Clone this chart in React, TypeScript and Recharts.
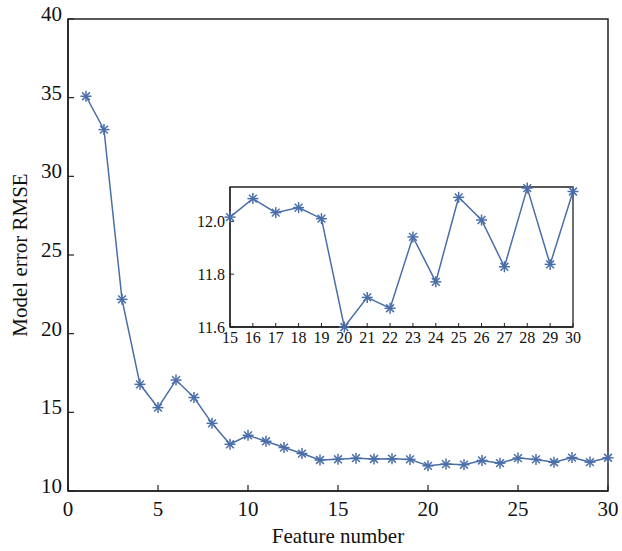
import React from 'react';
import { LineChart, Line, XAxis, YAxis, ReferenceArea } from 'recharts';

const featureNumbers = [1, 2, 3, 4, 5, 6, 7, 8, 9, 10, 11, 12, 13, 14, 15, 16, 17, 18, 19, 20, 21, 22, 23, 24, 25, 26, 27, 28, 29, 30];
const rmseValues = [35.09, 32.97, 22.18, 16.78, 15.3, 17.05, 15.94, 14.3, 12.97, 13.54, 13.16, 12.76, 12.38, 11.97, 12.016, 12.086, 12.033, 12.052, 12.01, 11.6, 11.712, 11.671, 11.941, 11.771, 12.091, 12.005, 11.828, 12.126, 11.837, 12.113];

const mainXTicks = [0, 5, 10, 15, 20, 25, 30];
const mainYTicks = [10, 15, 20, 25, 30, 35, 40];
const insetXTicks = [15, 16, 17, 18, 19, 20, 21, 22, 23, 24, 25, 26, 27, 28, 29, 30];
const insetYTicks = [11.6, 11.8, 12.0];

const mainData = featureNumbers.map((f, i) => ({ f, v: rmseValues[i] }));
const insetData = mainData.filter((d) => d.f >= 15);

const COLOR = '#4a6ea8';
const AXIS = '#222';
const FONT = 'Liberation Serif';

const Star = (props: any) => {
  const { cx, cy, index } = props;
  if (cx == null || cy == null) return <g key={`s${index}`} />;
  const r = 5.5;
  const d = r * Math.SQRT1_2;
  return (
    <g key={`s${index}`} stroke={COLOR} strokeWidth={1.5}>
      <line x1={cx - r} y1={cy} x2={cx + r} y2={cy} />
      <line x1={cx} y1={cy - r} x2={cx} y2={cy + r} />
      <line x1={cx - d} y1={cy - d} x2={cx + d} y2={cy + d} />
      <line x1={cx - d} y1={cy + d} x2={cx + d} y2={cy - d} />
    </g>
  );
};

const txt = (size: number) => ({ fontFamily: FONT, fontSize: size, fill: '#111' });

const MainXTick = (props: any) => {
  const { x, y, payload } = props;
  return (
    <text x={x} y={y + 21} textAnchor="middle" fontFamily={FONT} style={txt(21)}>
      {payload.value}
    </text>
  );
};

const MainYTick = (props: any) => {
  const { x, y, payload } = props;
  return (
    <text x={x} y={y + 2} textAnchor="end" fontFamily={FONT} style={txt(21)}>
      {payload.value}
    </text>
  );
};

const InsetXTick = (props: any) => {
  const { x, y, payload } = props;
  return (
    <text x={x} y={y + 12} textAnchor="middle" fontFamily={FONT} style={txt(16)}>
      {payload.value}
    </text>
  );
};

const InsetYTick = (props: any) => {
  const { x, y, payload } = props;
  return (
    <text x={x} y={y + 5.5} textAnchor="end" fontFamily={FONT} style={txt(16)}>
      {Number(payload.value).toFixed(1)}
    </text>
  );
};

export default function App() {
  return (
    <div style={{ position: 'absolute', left: 0, top: 0, width: 622, height: 551, background: '#fff', fontFamily: FONT }}>
      <LineChart width={622} height={551} data={mainData} margin={{ top: 19, right: 14, bottom: 0, left: 0 }} style={{ fontFamily: FONT }}>
        <XAxis
          dataKey="f"
          type="number"
          domain={[0, 30]}
          ticks={mainXTicks}
          height={60}
          tickSize={-6}
          tickMargin={10}
          tick={<MainXTick />}
          axisLine={{ stroke: AXIS, strokeWidth: 1.5 }}
          tickLine={{ stroke: AXIS, strokeWidth: 1.2 }}
          label={{
            content: (p: any) => {
              const vb = p.viewBox;
              return (
                <text x={vb.x + vb.width / 2} y={vb.y + 52} textAnchor="middle" fontFamily={FONT} style={txt(21)}>
                  Feature number
                </text>
              );
            },
          }}
        />
        <YAxis
          type="number"
          domain={[10, 40]}
          ticks={mainYTicks}
          width={68}
          tickSize={-6}
          tickMargin={12}
          tick={<MainYTick />}
          axisLine={{ stroke: AXIS, strokeWidth: 1.5 }}
          tickLine={{ stroke: AXIS, strokeWidth: 1.2 }}
          label={{
            content: (p: any) => {
              const vb = p.viewBox;
              const cx = 27;
              const cy = vb.y + vb.height / 2;
              return (
                <text x={cx} y={cy} transform={`rotate(-90 ${cx} ${cy})`} textAnchor="middle" fontFamily={FONT} style={txt(21)}>
                  Model error RMSE
                </text>
              );
            },
          }}
        />
        <ReferenceArea x1={0} x2={30} y1={10} y2={40} fill="none" stroke={AXIS} strokeWidth={1.5} ifOverflow="visible" />
        <Line dataKey="v" stroke={COLOR} strokeWidth={1.5} dot={Star} isAnimationActive={false} />
      </LineChart>
      <div style={{ position: 'absolute', left: 190, top: 175, width: 400, height: 180 }}>
        <LineChart width={400} height={180} data={insetData} margin={{ top: 12, right: 17, bottom: 0, left: 0 }} style={{ fontFamily: FONT }}>
          <XAxis
            dataKey="f"
            type="number"
            domain={[15, 30]}
            ticks={insetXTicks}
            interval={0}
            height={28}
            tickSize={-4}
            tickMargin={8}
            tick={<InsetXTick />}
            axisLine={{ stroke: AXIS, strokeWidth: 1.3 }}
            tickLine={{ stroke: AXIS, strokeWidth: 1 }}
          />
          <YAxis
            type="number"
            domain={[11.6, 12.13]}
            ticks={insetYTicks}
            interval={0}
            width={40}
            tickSize={-4}
            tickMargin={9}
            tick={<InsetYTick />}
            axisLine={{ stroke: AXIS, strokeWidth: 1.3 }}
            tickLine={{ stroke: AXIS, strokeWidth: 1 }}
          />
          <ReferenceArea x1={15} x2={30} y1={11.6} y2={12.13} fill="none" stroke={AXIS} strokeWidth={1.3} ifOverflow="visible" />
          <Line dataKey="v" stroke={COLOR} strokeWidth={1.5} dot={Star} isAnimationActive={false} />
        </LineChart>
      </div>
    </div>
  );
}
